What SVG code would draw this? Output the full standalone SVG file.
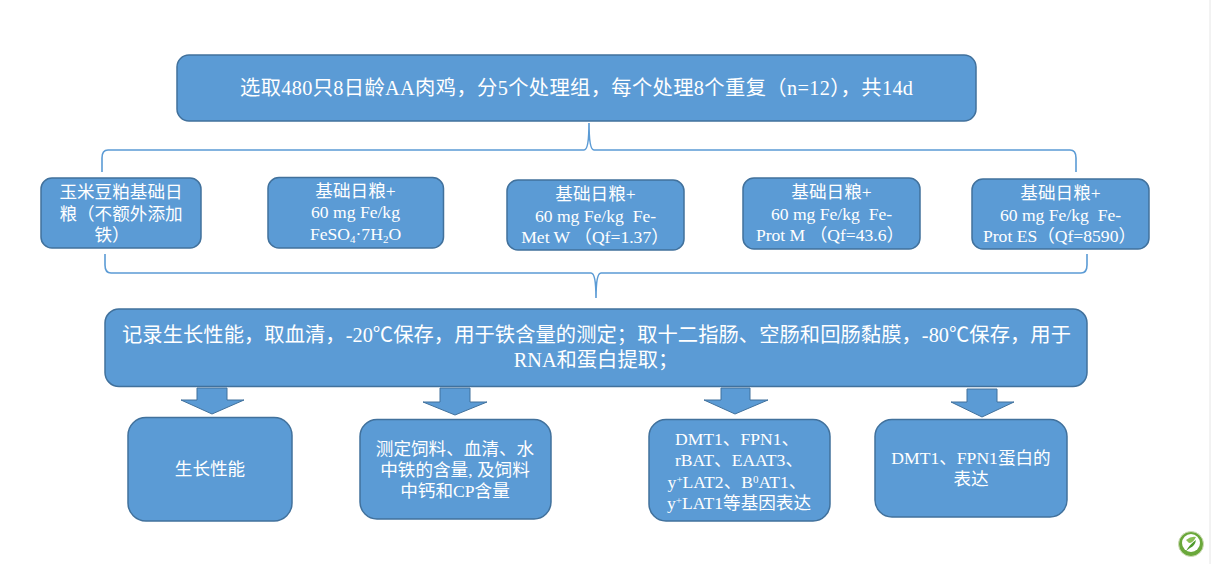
<svg xmlns="http://www.w3.org/2000/svg" width="1211" height="564" viewBox="0 0 1211 564">
<style>
.box{fill:#5B9BD5;stroke:#41719C;stroke-width:1.5}
.brace{fill:none;stroke:#5B9BD5;stroke-width:1.6}
.arrow{fill:#5B9BD5;stroke:#41719C;stroke-width:1}
text{font-family:"Liberation Serif","Noto Sans CJK SC",serif;fill:#fff;text-anchor:middle}
.t20{font-size:20.300px}
.t17{font-size:17.600px}
.s{font-size:11px}
</style>
<rect width="1211" height="564" fill="#fff"/>
<line x1="1210" y1="0" x2="1210" y2="564" stroke="#e6e6e6"/>
<g id="connectors">
<path class="brace" d="M102 172V158Q102 150 108 150H584Q589 150 589 123Q589 150 594 150H1070Q1076 150 1076 158V172"/>
<path class="brace" d="M105 254V265Q105 273 111 273H591Q596 273 596 298Q596 273 601 273H1081Q1087 273 1087 265V254"/>
<path class="arrow" d="M197 388H227V400H244L212 414L181 400H197Z"/>
<path class="arrow" d="M440 388H470V402H487L455 415L423 402H440Z"/>
<path class="arrow" d="M721 388H750V400H768L735 414L704 400H721Z"/>
<path class="arrow" d="M967 389H997V402H1014L982 417L951 402H967Z"/>
</g>
<g id="node-top"><rect class="box" x="177" y="55" width="799" height="66" rx="12"/>
<text class="t20" x="576.500" y="95" textLength="673">选取480只8日龄AA肉鸡，分5个处理组，每个处理8个重复（n=12），共14d</text></g>
<g id="node-a"><rect class="box" x="41" y="178" width="160" height="70" rx="11"/>
<text class="t17" x="121" y="198">玉米豆粕基础日</text><text class="t17" x="121" y="220">粮（不额外添加</text><text class="t17" x="112" y="241">铁）</text></g>
<g id="node-b"><rect class="box" x="268" y="177.500" width="175.500" height="70.500" rx="11"/>
<text class="t17" x="355.500" y="197">基础日粮+</text><text class="t17" x="355.500" y="218">60 mg Fe/kg</text><text class="t17" x="355.500" y="240">FeSO<tspan class="s" dy="3">4</tspan><tspan dy="-3">·7H</tspan><tspan class="s" dy="3">2</tspan><tspan dy="-3">O</tspan></text></g>
<g id="node-c"><rect class="box" x="507" y="180" width="177" height="70" rx="11"/>
<text class="t17" x="595.500" y="200">基础日粮+</text><text class="t17" x="595.500" y="222">60 mg Fe/kg&#160;&#160;Fe-</text><text class="t17" x="595" y="243">Met W （Qf=1.37）</text></g>
<g id="node-d"><rect class="box" x="743" y="178" width="177" height="71" rx="11"/>
<text class="t17" x="831.500" y="198">基础日粮+</text><text class="t17" x="831.500" y="220">60 mg Fe/kg&#160;&#160;Fe-</text><text class="t17" x="830" y="241">Prot M （Qf=43.6）</text></g>
<g id="node-e"><rect class="box" x="972" y="179" width="177" height="70" rx="11"/>
<text class="t17" x="1060.500" y="199">基础日粮+</text><text class="t17" x="1060.500" y="221">60 mg Fe/kg&#160;&#160;Fe-</text><text class="t17" x="1059.500" y="242">Prot ES（Qf=8590）</text></g>
<g id="node-mid"><rect class="box" x="105" y="309" width="982" height="77.500" rx="14"/>
<text class="t20" x="596.500" y="342" textLength="949">记录生长性能，取血清，-20℃保存，用于铁含量的测定；取十二指肠、空肠和回肠黏膜，-80℃保存，用于</text>
<text class="t20" x="596" y="367">RNA和蛋白提取；</text></g>
<g id="node-f"><rect class="box" x="128" y="417.500" width="164" height="103.500" rx="18"/>
<text class="t17" x="210" y="475">生长性能</text></g>
<g id="node-g"><rect class="box" x="360" y="419.500" width="191" height="99.500" rx="17"/>
<text class="t17" x="455" y="455">测定饲料、血清、水</text><text class="t17" x="455" y="476">中铁的含量, 及饲料</text><text class="t17" x="455" y="497">中钙和CP含量</text></g>
<g id="node-h"><rect class="box" x="649" y="419.500" width="181" height="101.500" rx="17"/>
<text class="t17" x="737" y="445">DMT1、FPN1、</text><text class="t17" x="739" y="466">rBAT、EAAT3、</text><text class="t17" x="737" y="488">y<tspan class="s" dy="-5">+</tspan><tspan dy="5">LAT2、B</tspan><tspan class="s" dy="-5">0</tspan><tspan dy="5">AT1、</tspan></text><text class="t17" x="739" y="509">y<tspan class="s" dy="-5">+</tspan><tspan dy="5">LAT1等基因表达</tspan></text></g>
<g id="node-i"><rect class="box" x="875" y="419.500" width="192" height="97.500" rx="17"/>
<text class="t17" x="971" y="464">DMT1、FPN1蛋白的</text><text class="t17" x="971" y="485">表达</text></g>
<g id="logo"><circle cx="1191" cy="544" r="12.500" fill="#6aa83a" stroke="#cfdcb8"/><circle cx="1191" cy="543" r="9" fill="#fff"/><path d="M1186 551Q1190 544 1196 540Q1195 546 1190 548Z" fill="#4f9a2e"/><path d="M1186 540Q1191 536 1196 537Q1193 543 1189 543Z" fill="#8abf55"/></g>
</svg>
